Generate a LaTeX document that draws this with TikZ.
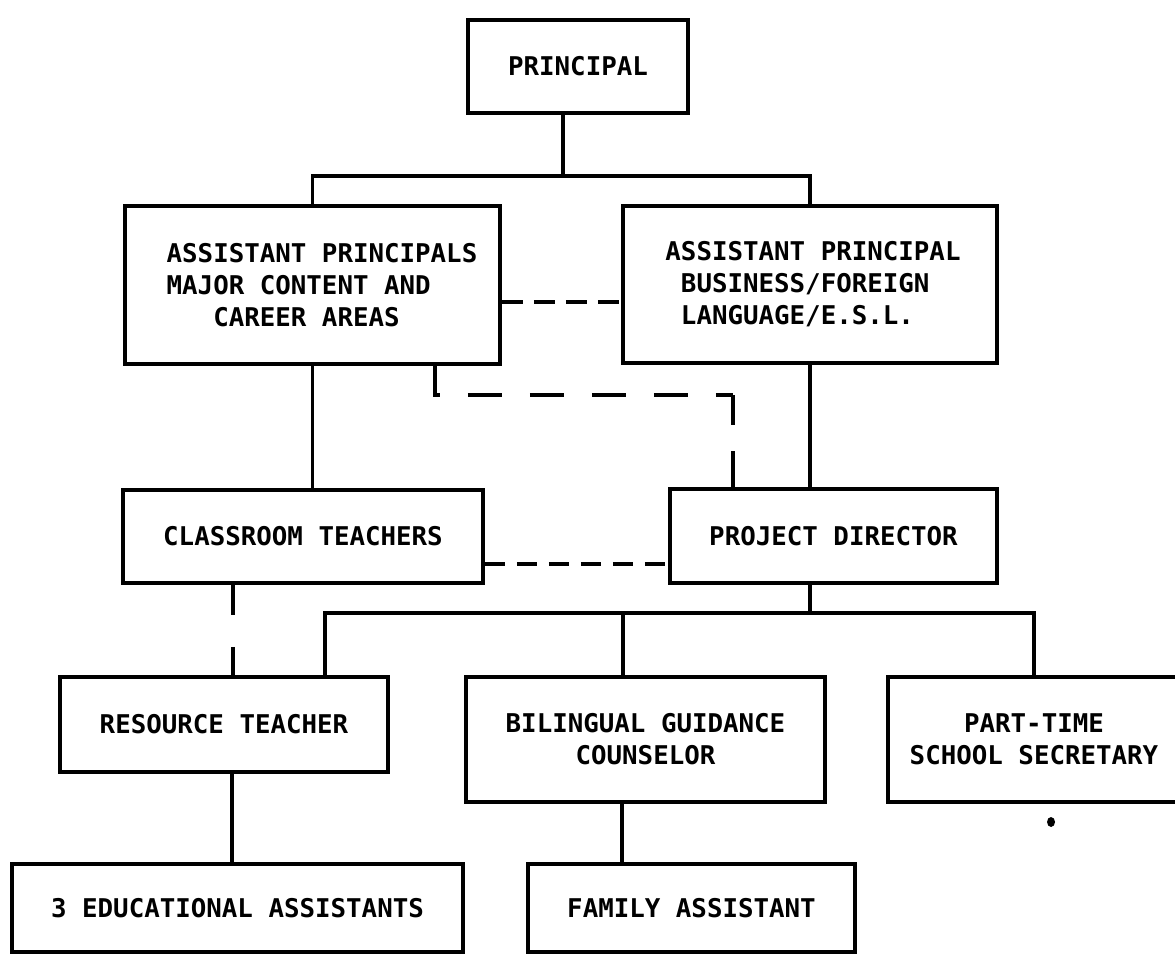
\documentclass[tikz,border=0pt]{standalone}
\usepackage{fontspec}
\newfontfamily\tw{DejaVu Sans Mono}
\begin{document}
\begin{tikzpicture}[x=1pt,y=-1pt,
  box/.style={draw, line width=3.5pt, rectangle, inner sep=0pt,
    font=\tw\bfseries\fontsize{25.8}{32}\selectfont, align=center},
  conn/.style={line width=3.3pt},
  dashA/.style={line width=3.3pt, dash pattern=on 21pt off 11pt},
  dashB/.style={line width=3.3pt, dash pattern=on 34pt off 28pt},
  dashV/.style={line width=3.3pt, dash pattern=on 30pt off 26pt on 40pt off 0pt},
  dashC/.style={line width=3.3pt, dash pattern=on 20pt off 12pt},
  brk/.style={line width=3.3pt, dash pattern=on 30pt off 32pt on 34pt off 0pt}]
\clip (0,0) rectangle (1175,957);
\fill[white] (0,0) rectangle (1175,957);
% boxes
\node[box, minimum width=220pt, minimum height=93pt] (principal) at (578,66.5) {PRINCIPAL};
\node[box, minimum width=375pt, minimum height=158pt, align=left] (apm) at (312.5,285)
  {\hspace*{19pt}ASSISTANT PRINCIPALS\\\hspace*{19pt}MAJOR CONTENT AND\\\hspace*{19pt}\hphantom{MAJ}CAREER AREAS};
\node[box, minimum width=374pt, minimum height=157pt, align=left] (apb) at (810,284.5)
  {\hspace*{6pt}ASSISTANT PRINCIPAL\\\hspace*{6pt}\hphantom{A}BUSINESS/FOREIGN\\\hspace*{6pt}\hphantom{A}LANGUAGE/E.S.L.};
\node[box, minimum width=360pt, minimum height=93pt] (ct) at (303,536.5) {CLASSROOM TEACHERS};
\node[box, minimum width=327pt, minimum height=94pt] (pd) at (833.5,536) {PROJECT DIRECTOR};
\node[box, minimum width=328pt, minimum height=95pt] (rt) at (224,724.5) {RESOURCE TEACHER};
\node[box, minimum width=359pt, minimum height=125pt] (bgc) at (645.5,739.5) {BILINGUAL GUIDANCE\\COUNSELOR};
\node[box, minimum width=292pt, minimum height=125pt] (pt) at (1034,739.5) {PART-TIME\\SCHOOL SECRETARY};
\node[box, minimum width=451pt, minimum height=88pt] (ea) at (237.5,908) {3 EDUCATIONAL ASSISTANTS};
\node[box, minimum width=327pt, minimum height=88pt] (fa) at (691.5,908) {FAMILY ASSISTANT};
% junctions
\coordinate (j1) at (563,176);
\coordinate (k) at (733,395);
\coordinate (j2) at (810,613);
\coordinate (j3) at (623,613);
% connectors
\draw[conn] (principal.south -| j1) -- (j1);
\draw[conn] (apm.north) |- (j1) -| (apb.north);
\draw[dashA] ([yshift=-17pt]apm.east) -- ([yshift=-17pt]apm.east -| apb.west);
\draw[conn] (apm.south) -- (apm.south |- ct.north);
\draw[dashB] ([xshift=122.5pt]apm.south) |- (k);
\draw[dashV] (k) -- (k |- pd.north);
\draw[conn] (apb.south) -- (apb.south |- pd.north);
\draw[dashC] ([yshift=-27.5pt]ct.east) -- ([yshift=-27.5pt]ct.east -| pd.west);
\draw[brk] ([xshift=9pt]rt.north |- ct.south) -- ([xshift=9pt]rt.north);
\draw[conn] (pd.south -| j2) -- (j2);
\draw[conn] ([xshift=101pt]rt.north) |- (j2) -| (pt.north);
\draw[conn] (j3) -- (j3 |- bgc.north);
\draw[conn] ([xshift=8pt]rt.south) -- ([xshift=8pt]rt.south |- ea.north);
\draw[conn] ([xshift=-23.5pt]bgc.south) -- ([xshift=-23.5pt]bgc.south |- fa.north);
% speck below the secretary box
\fill (1051,822) ellipse (4pt and 5pt);
\end{tikzpicture}
\end{document}
